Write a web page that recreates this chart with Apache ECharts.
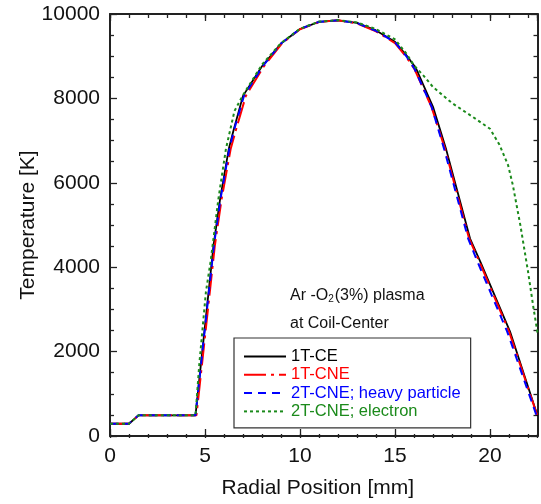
<!DOCTYPE html>
<html>
<head>
<meta charset="utf-8">
<script src="https://cdn.jsdelivr.net/npm/echarts@6/dist/echarts.min.js"></script>
<style>html,body{margin:0;padding:0;background:#fff}#c{width:541px;height:504px}</style>
</head>
<body>
<div id="c"></div>
<script>
// ---- data (radial position mm, temperature K) ----
const seriesNames = ['1T-CE', '1T-CNE', '2T-CNE; heavy particle', '2T-CNE; electron'];
const ce1T = [[0,290],[1,290],[1.5,490],[4.5,490],[5.45,4520],[5.8,5630],[6.25,6800],[6.5,7240],[7.0,8060],[8.0,8760],[9.0,9300],[10.0,9645],[11.0,9815],[12.0,9850],[13.0,9790],[14.0,9610],[15.0,9340],[15.6,9020],[16.1,8720],[17.0,7800],[17.7,6780],[18.95,4680],[19.5,4120],[21.05,2480],[22.5,480]];
const cne1T = [[0,290],[1,290],[1.5,490],[4.55,490],[5.52,4520],[5.88,5630],[6.35,6800],[6.62,7240],[7.15,8060],[8.1,8760],[9.05,9300],[10.0,9640],[11.0,9810],[12.0,9850],[13.0,9780],[14.0,9590],[15.0,9310],[15.55,9010],[16.02,8700],[16.92,7800],[17.65,6780],[18.9,4680],[19.45,4120],[21.0,2480],[22.5,470]];
const cneHeavy = [[0,290],[1,290],[1.5,490],[4.5,490],[5.47,4520],[5.82,5630],[6.28,6800],[6.52,7240],[7.05,8060],[8.05,8770],[9.0,9300],[10.0,9645],[11.0,9815],[12.0,9850],[13.0,9785],[14.0,9600],[15.0,9330],[15.58,9010],[16.03,8700],[16.93,7800],[17.6,6780],[18.85,4680],[19.35,4120],[20.9,2480],[22.5,420]];
const cneElectron = [[0,290],[1,290],[1.5,490],[4.5,490],[4.7,1700],[5.05,3420],[5.3,4150],[5.7,5600],[6.1,6800],[6.55,7700],[7.0,8080],[8.0,8800],[9.0,9310],[10.0,9650],[11.0,9820],[12.0,9855],[13.0,9800],[14.0,9640],[15.0,9400],[15.6,9060],[16.0,8780],[16.5,8540],[17.0,8270],[18.0,7890],[19.0,7590],[20.0,7280],[20.5,6900],[20.95,6420],[21.2,5950],[21.6,4990],[22.0,3900],[22.3,3000],[22.5,2450]];
const xMajorTicks = [0, 5, 10, 15, 20];
const yTicks = [0, 2000, 4000, 6000, 8000, 10000];

const FONT = '"Liberation Sans", Arial, Helvetica, sans-serif';
const AX = '#222';
const colors = ['#000000', '#ff0000', '#0000ff', '#1b8a1b'];
const dashes = ['solid', [22, 5, 3, 5], [8, 6], [3, 3]];
const datasets = [ce1T, cne1T, cneHeavy, cneElectron];

const gridRect = {left: 110, right: 3.5, top: 14, bottom: 66};
const chart = echarts.init(document.getElementById('c'), null, {renderer: 'canvas'});

function xAx(gridIndex, pos, interval, len, labels) {
  return {
    type: 'value', gridIndex, position: pos, min: 0, max: 22.5, interval,
    axisLine: {show: len > 5, onZero: false, lineStyle: {color: AX, width: 2}},
    axisTick: {show: true, inside: true, length: len, lineStyle: {color: AX, width: 1.3}},
    splitLine: {show: false},
    axisLabel: labels ? {show: true, fontSize: 21, color: '#111', fontFamily: FONT, margin: 10, showMaxLabel: false,
      formatter: v => xMajorTicks.includes(v) ? String(v) : ''} : {show: false},
    name: labels ? 'Radial Position [mm]' : '',
    nameLocation: 'middle', nameGap: 42, nameMoveOverlap: false,
    nameTextStyle: {fontSize: 21, color: '#111', fontFamily: FONT, padding: [0, 12, 0, 0]}
  };
}
function yAx(pos, labels) {
  return {
    type: 'value', gridIndex: 0, position: pos, min: 0, max: 10000, interval: 2000,
    axisLine: {show: true, onZero: false, lineStyle: {color: AX, width: 2}},
    axisTick: {show: true, inside: true, length: 7, lineStyle: {color: AX, width: 1.3}},
    minorTick: {show: true, splitNumber: 4, length: 4, lineStyle: {color: AX, width: 1.3}},
    splitLine: {show: false},
    axisLabel: labels ? {show: true, fontSize: 21, color: '#111', fontFamily: FONT, margin: 10,
      formatter: v => yTicks.includes(v) ? String(v) : ''} : {show: false},
    name: labels ? 'Temperature [K]' : '',
    nameLocation: 'middle', nameGap: 71, nameMoveOverlap: false,
    nameTextStyle: {fontSize: 21, color: '#111', fontFamily: FONT}
  };
}

const option = {
  animation: false,
  backgroundColor: '#fff',
  grid: [Object.assign({}, gridRect), Object.assign({}, gridRect)],
  xAxis: [
    xAx(0, 'bottom', 5, 7, true),
    xAx(0, 'top', 5, 7, false),
    xAx(1, 'bottom', 1, 4, false),
    xAx(1, 'top', 1, 4, false)
  ],
  yAxis: [
    yAx('left', true),
    yAx('right', false),
    {type: 'value', gridIndex: 1, min: 0, max: 10000, show: false}
  ],
  legend: {
    orient: 'vertical', left: 234, top: 338,
    padding: [10, 10, 8, 9], itemWidth: 42, itemHeight: 14, itemGap: 1.3,
    borderColor: '#333', borderWidth: 1.2, backgroundColor: '#fff',
    itemStyle: {opacity: 0},
    textStyle: {fontSize: 16.5, lineHeight: 16, fontFamily: FONT},
    data: seriesNames.map((n, i) => ({name: n, textStyle: {color: colors[i]}}))
  },
  graphic: [
    {type: 'text', left: 290, top: 288, z: 10,
      style: {text: '{a|Ar -O}{s|2}{a|(3%) plasma}', fill: '#111',
        rich: {a: {fontSize: 16, fontFamily: FONT, fill: '#111', lineHeight: 20, verticalAlign: 'bottom'},
               s: {fontSize: 10, fontFamily: FONT, fill: '#111', lineHeight: 14, verticalAlign: 'bottom', padding: [0, 1, 0, 0]}}}},
    {type: 'text', left: 290, top: 316, z: 10,
      style: {text: 'at Coil-Center', fill: '#111', font: '16px ' + FONT}}
  ],
  series: datasets.map((d, i) => ({
    name: seriesNames[i], type: 'line', xAxisIndex: 0, yAxisIndex: 0,
    data: d, symbol: 'none', showSymbol: false,
    lineStyle: {color: colors[i], width: i === 0 ? 1.8 : 2, type: dashes[i]},
    itemStyle: {color: colors[i]},
    z: 2 + i
  }))
};
chart.setOption(option);
</script>
</body>
</html>
